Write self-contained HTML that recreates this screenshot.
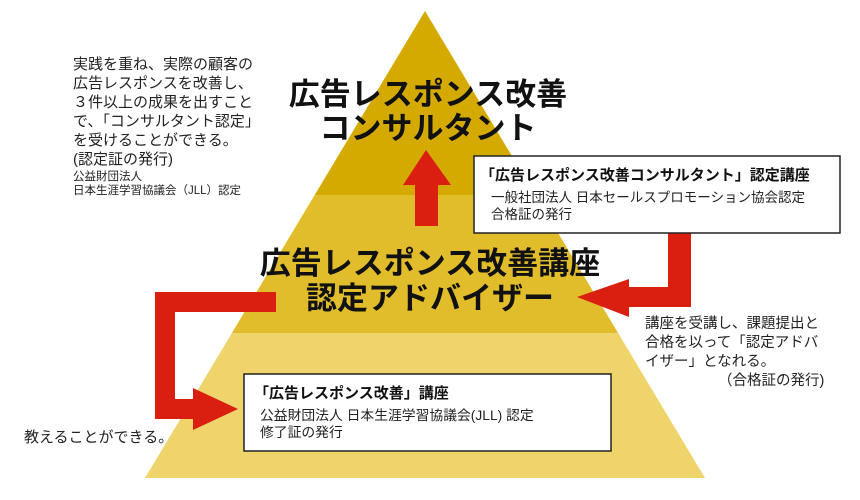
<!DOCTYPE html>
<html><head><meta charset="utf-8"><style>
body{margin:0;background:#fff;}
svg{display:block;font-family:"Liberation Sans","Noto Sans CJK JP",sans-serif;}
</style></head><body>
<svg width="860" height="500" viewBox="0 0 860 500" xmlns="http://www.w3.org/2000/svg">
<defs><clipPath id="pc"><polygon points="425,11 145,478 705,478"/></clipPath></defs>
<g clip-path="url(#pc)">
<rect x="0" y="0" width="860" height="195" fill="#d5aa00"/>
<rect x="0" y="195" width="860" height="138" fill="#e1bd2b"/>
<rect x="0" y="333" width="860" height="145" fill="#eed46a"/>
</g>
<g fill="#111" font-weight="bold" text-anchor="middle" font-size="31">
<text x="428" y="105">広告レスポンス改善</text>
<text x="428" y="139">コンサルタント</text>
<text x="430" y="274">広告レスポンス改善講座</text>
<text x="430" y="309">認定アドバイザー</text>
</g>
<polygon points="426,150 451,185 438,185 438,226 415,226 415,185 403,185" fill="#da1f10"/>
<polygon points="668,233 691,233 691,307 629,307 629,317 577,297 629,279 629,287 668,287" fill="#da1f10"/>
<polygon points="276,292 276,312 175,312 175,399 193,399 193,388 238,409 193,430 193,419 155,419 155,292" fill="#da1f10"/>
<rect x="474" y="156" width="366" height="77" fill="#fff" stroke="#222" stroke-width="1.5"/>
<text x="480" y="180" font-size="15" font-weight="bold" fill="#111">「広告レスポンス改善コンサルタント」認定講座</text>
<text x="491" y="202" font-size="13.5" fill="#222">一般社団法人 日本セールスプロモーション協会認定</text>
<text x="491" y="219" font-size="13.5" fill="#222">合格証の発行</text>
<rect x="244" y="374" width="367" height="77" fill="#fff" stroke="#222" stroke-width="1.5"/>
<text x="254" y="398" font-size="15" font-weight="bold" fill="#111">「広告レスポンス改善」講座</text>
<text x="260" y="420" font-size="13.8" fill="#222">公益財団法人 日本生涯学習協議会(JLL) 認定</text>
<text x="260" y="437" font-size="13.8" fill="#222">修了証の発行</text>
<g font-size="15" fill="#222">
<text x="73" y="69">実践を重ね、実際の顧客の</text>
<text x="73" y="88">広告レスポンスを改善し、</text>
<text x="73" y="107">３件以上の成果を出すこと</text>
<text x="73" y="126">で、「コンサルタント認定」</text>
<text x="73" y="145">を受けることができる。</text>
<text x="73" y="164">(認定証の発行)</text>
<text x="24" y="442">教えることができる。</text>
</g>
<g font-size="14.5" fill="#222">
<text x="645" y="328">講座を受講し、課題提出と</text>
<text x="645" y="347">合格を以って「認定アドバ</text>
<text x="645" y="366">イザー」となれる。</text>
<text x="718" y="385">（合格証の発行)</text>
</g>
<g font-size="11.5" fill="#222">
<text x="73" y="180">公益財団法人</text>
<text x="73" y="194">日本生涯学習協議会（JLL）認定</text>
</g>
</svg>
</body></html>
